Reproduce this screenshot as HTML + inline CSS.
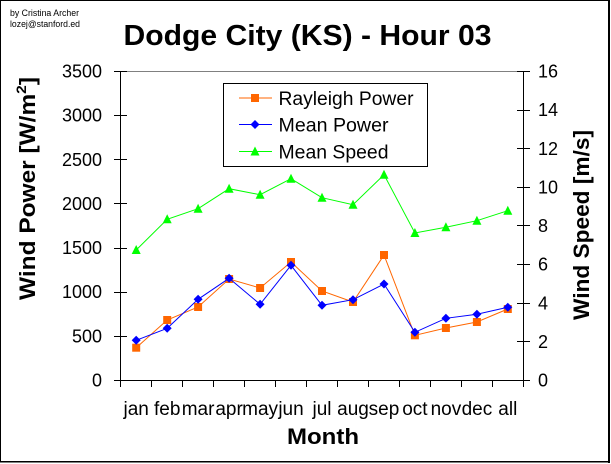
<!DOCTYPE html>
<html>
<head>
<meta charset="utf-8">
<style>
html,body{margin:0;padding:0;background:#fff;}
svg{display:block;}
text{font-family:"Liberation Sans",Arial,sans-serif;fill:#000;}
</style>
</head>
<body>
<svg width="611" height="464" viewBox="0 0 611 464" xmlns="http://www.w3.org/2000/svg">
<rect x="0" y="0" width="611" height="464" fill="#fff"/>
<!-- outer border -->
<g shape-rendering="crispEdges" stroke="#000" fill="none">
<line x1="0" y1="0.5" x2="610" y2="0.5" stroke-width="1"/>
<line x1="0.5" y1="0" x2="0.5" y2="462" stroke-width="1"/>
<line x1="609" y1="0" x2="609" y2="463" stroke-width="2"/>
<line x1="0" y1="461.5" x2="610" y2="461.5" stroke-width="1.5"/>
</g>

<!-- author -->
<text x="10" y="16" font-size="9" textLength="69" lengthAdjust="spacingAndGlyphs">by Cristina Archer</text>
<text x="10" y="27" font-size="9" textLength="70" lengthAdjust="spacingAndGlyphs">lozej@stanford.ed</text>

<!-- title -->
<text x="307.5" y="45" font-size="29" font-weight="bold" text-anchor="middle" textLength="368" lengthAdjust="spacingAndGlyphs">Dodge City (KS) - Hour 03</text>

<!-- plot top border -->
<line x1="121" y1="71.5" x2="523" y2="71.5" stroke="#808080" stroke-width="1" shape-rendering="crispEdges"/>

<!-- axes -->
<g stroke="#000" stroke-width="1" shape-rendering="crispEdges">
<line x1="120.5" y1="71" x2="120.5" y2="387"/>
<line x1="523.5" y1="71" x2="523.5" y2="387"/>
<line x1="114" y1="380.5" x2="530" y2="380.5"/>
<!-- left ticks -->
<line x1="114" y1="380.5" x2="127" y2="380.5"/>
<line x1="114" y1="336.5" x2="127" y2="336.5"/>
<line x1="114" y1="292.5" x2="127" y2="292.5"/>
<line x1="114" y1="248.5" x2="127" y2="248.5"/>
<line x1="114" y1="203.5" x2="127" y2="203.5"/>
<line x1="114" y1="159.5" x2="127" y2="159.5"/>
<line x1="114" y1="115.5" x2="127" y2="115.5"/>
<line x1="114" y1="71.5" x2="127" y2="71.5"/>
<!-- right ticks -->
<line x1="517" y1="380.5" x2="530" y2="380.5"/>
<line x1="517" y1="341.5" x2="530" y2="341.5"/>
<line x1="517" y1="303.5" x2="530" y2="303.5"/>
<line x1="517" y1="264.5" x2="530" y2="264.5"/>
<line x1="517" y1="225.5" x2="530" y2="225.5"/>
<line x1="517" y1="187.5" x2="530" y2="187.5"/>
<line x1="517" y1="148.5" x2="530" y2="148.5"/>
<line x1="517" y1="110.5" x2="530" y2="110.5"/>
<line x1="517" y1="71.5" x2="530" y2="71.5"/>
<!-- bottom ticks -->
<line x1="151.5" y1="380" x2="151.5" y2="387"/>
<line x1="182.5" y1="380" x2="182.5" y2="387"/>
<line x1="213.5" y1="380" x2="213.5" y2="387"/>
<line x1="244.5" y1="380" x2="244.5" y2="387"/>
<line x1="275.5" y1="380" x2="275.5" y2="387"/>
<line x1="306.5" y1="380" x2="306.5" y2="387"/>
<line x1="337.5" y1="380" x2="337.5" y2="387"/>
<line x1="368.5" y1="380" x2="368.5" y2="387"/>
<line x1="399.5" y1="380" x2="399.5" y2="387"/>
<line x1="430.5" y1="380" x2="430.5" y2="387"/>
<line x1="461.5" y1="380" x2="461.5" y2="387"/>
<line x1="492.5" y1="380" x2="492.5" y2="387"/>
</g>

<!-- left tick labels -->
<g font-size="18" text-anchor="end">
<text x="102" y="386.5">0</text>
<text x="102" y="342.4">500</text>
<text x="102" y="298.2">1000</text>
<text x="102" y="254.1">1500</text>
<text x="102" y="209.9">2000</text>
<text x="102" y="165.8">2500</text>
<text x="102" y="121.6">3000</text>
<text x="102" y="77.5">3500</text>
</g>

<!-- right tick labels -->
<g font-size="18" text-anchor="start">
<text x="538" y="386.5">0</text>
<text x="538" y="347.9">2</text>
<text x="538" y="309.3">4</text>
<text x="538" y="270.6">6</text>
<text x="538" y="232">8</text>
<text x="538" y="193.4">10</text>
<text x="538" y="154.8">12</text>
<text x="538" y="116.1">14</text>
<text x="538" y="77.5">16</text>
</g>

<!-- category labels -->
<g font-size="19" text-anchor="middle">
<text x="136.2" y="415">jan</text>
<text x="167.2" y="415">feb</text>
<text x="198.1" y="415">mar</text>
<text x="229.1" y="415">apr</text>
<text x="260.1" y="415">may</text>
<text x="291.0" y="415">jun</text>
<text x="322.0" y="415">jul</text>
<text x="353.0" y="415">aug</text>
<text x="384.0" y="415">sep</text>
<text x="414.9" y="415">oct</text>
<text x="445.9" y="415">nov</text>
<text x="476.9" y="415">dec</text>
<text x="507.8" y="415">all</text>
</g>

<!-- axis titles -->
<text x="323" y="444" font-size="22" font-weight="bold" text-anchor="middle" textLength="72" lengthAdjust="spacingAndGlyphs">Month</text>
<text transform="translate(35,188.5) rotate(-90)" font-size="22" font-weight="bold" text-anchor="middle" textLength="223" lengthAdjust="spacingAndGlyphs">Wind Power [W/m<tspan font-size="14" dy="-9">2</tspan><tspan dy="9">]</tspan></text>
<text transform="translate(589,225) rotate(-90)" font-size="22" font-weight="bold" text-anchor="middle" textLength="190" lengthAdjust="spacingAndGlyphs">Wind Speed [m/s]</text>

<!-- Mean Speed (green) -->
<polyline fill="none" stroke="#00FF00" stroke-width="1" points="136.2,250 167.2,219.3 198.1,208.7 229.1,188.7 260.1,194.7 291.0,178.7 322.0,197.7 353.0,204.7 384.0,174.7 414.9,233 445.9,227.3 476.9,220.7 507.8,210.7"/>
<g fill="#00FF00">
<polygon points="136.2,245 140.7,254 131.7,254"/>
<polygon points="167.2,214.3 171.7,223.3 162.7,223.3"/>
<polygon points="198.1,203.7 202.6,212.7 193.6,212.7"/>
<polygon points="229.1,183.7 233.6,192.7 224.6,192.7"/>
<polygon points="260.1,189.7 264.6,198.7 255.6,198.7"/>
<polygon points="291.0,173.7 295.5,182.7 286.5,182.7"/>
<polygon points="322.0,192.7 326.5,201.7 317.5,201.7"/>
<polygon points="353.0,199.7 357.5,208.7 348.5,208.7"/>
<polygon points="384.0,169.7 388.5,178.7 379.5,178.7"/>
<polygon points="414.9,228 419.4,237 410.4,237"/>
<polygon points="445.9,222.3 450.4,231.3 441.4,231.3"/>
<polygon points="476.9,215.7 481.4,224.7 472.4,224.7"/>
<polygon points="507.8,205.7 512.3,214.7 503.3,214.7"/>
</g>

<!-- Rayleigh Power (orange) -->
<polyline fill="none" stroke="#FF6600" stroke-width="1" points="136.2,347.7 167.2,320 198.1,307 229.1,279 260.1,288 291.0,262 322.0,291 353.0,302 384.0,255 414.9,335.3 445.9,328 476.9,322 507.8,309"/>
<g fill="#FF6600">
<rect x="132.2" y="343.7" width="8" height="8"/>
<rect x="163.2" y="316" width="8" height="8"/>
<rect x="194.1" y="303" width="8" height="8"/>
<rect x="225.1" y="275" width="8" height="8"/>
<rect x="256.1" y="284" width="8" height="8"/>
<rect x="287.0" y="258" width="8" height="8"/>
<rect x="318.0" y="287" width="8" height="8"/>
<rect x="349.0" y="298" width="8" height="8"/>
<rect x="380.0" y="251" width="8" height="8"/>
<rect x="410.9" y="331.3" width="8" height="8"/>
<rect x="441.9" y="324" width="8" height="8"/>
<rect x="472.9" y="318" width="8" height="8"/>
<rect x="503.8" y="305" width="8" height="8"/>
</g>

<!-- Mean Power (blue) -->
<polyline fill="none" stroke="#0000FF" stroke-width="1" points="136.2,340.3 167.2,328.3 198.1,299.3 229.1,278.3 260.1,304.3 291.0,265.3 322.0,305.3 353.0,299.7 384.0,284 414.9,332.3 445.9,318.3 476.9,314.3 507.8,307.3"/>
<g fill="#0000FF">
<polygon points="136.2,335.8 140.7,340.3 136.2,344.8 131.7,340.3"/>
<polygon points="167.2,323.8 171.7,328.3 167.2,332.8 162.7,328.3"/>
<polygon points="198.1,294.8 202.6,299.3 198.1,303.8 193.6,299.3"/>
<polygon points="229.1,273.8 233.6,278.3 229.1,282.8 224.6,278.3"/>
<polygon points="260.1,299.8 264.6,304.3 260.1,308.8 255.6,304.3"/>
<polygon points="291.0,260.8 295.5,265.3 291.0,269.8 286.5,265.3"/>
<polygon points="322.0,300.8 326.5,305.3 322.0,309.8 317.5,305.3"/>
<polygon points="353.0,295.2 357.5,299.7 353.0,304.2 348.5,299.7"/>
<polygon points="384.0,279.5 388.5,284 384.0,288.5 379.5,284"/>
<polygon points="414.9,327.8 419.4,332.3 414.9,336.8 410.4,332.3"/>
<polygon points="445.9,313.8 450.4,318.3 445.9,322.8 441.4,318.3"/>
<polygon points="476.9,309.8 481.4,314.3 476.9,318.8 472.4,314.3"/>
<polygon points="507.8,302.8 512.3,307.3 507.8,311.8 503.3,307.3"/>
</g>

<!-- legend -->
<rect x="223.5" y="83.5" width="204" height="83" fill="#fff" stroke="#000" stroke-width="1" shape-rendering="crispEdges"/>
<line x1="239" y1="98" x2="272" y2="98" stroke="#FF6600" stroke-width="1"/>
<rect x="251" y="94" width="8" height="8" fill="#FF6600"/>
<line x1="239" y1="124.5" x2="272" y2="124.5" stroke="#0000FF" stroke-width="1"/>
<polygon points="255,120 259.5,124.5 255,129 250.5,124.5" fill="#0000FF"/>
<line x1="239" y1="151.5" x2="272" y2="151.5" stroke="#00FF00" stroke-width="1"/>
<polygon points="255,146.5 259.5,155.5 250.5,155.5" fill="#00FF00"/>
<g font-size="19">
<text x="278.5" y="105" textLength="135" lengthAdjust="spacingAndGlyphs">Rayleigh Power</text>
<text x="278.5" y="131.5" textLength="110" lengthAdjust="spacingAndGlyphs">Mean Power</text>
<text x="278.5" y="158.5" textLength="110" lengthAdjust="spacingAndGlyphs">Mean Speed</text>
</g>
</svg>
</body>
</html>
